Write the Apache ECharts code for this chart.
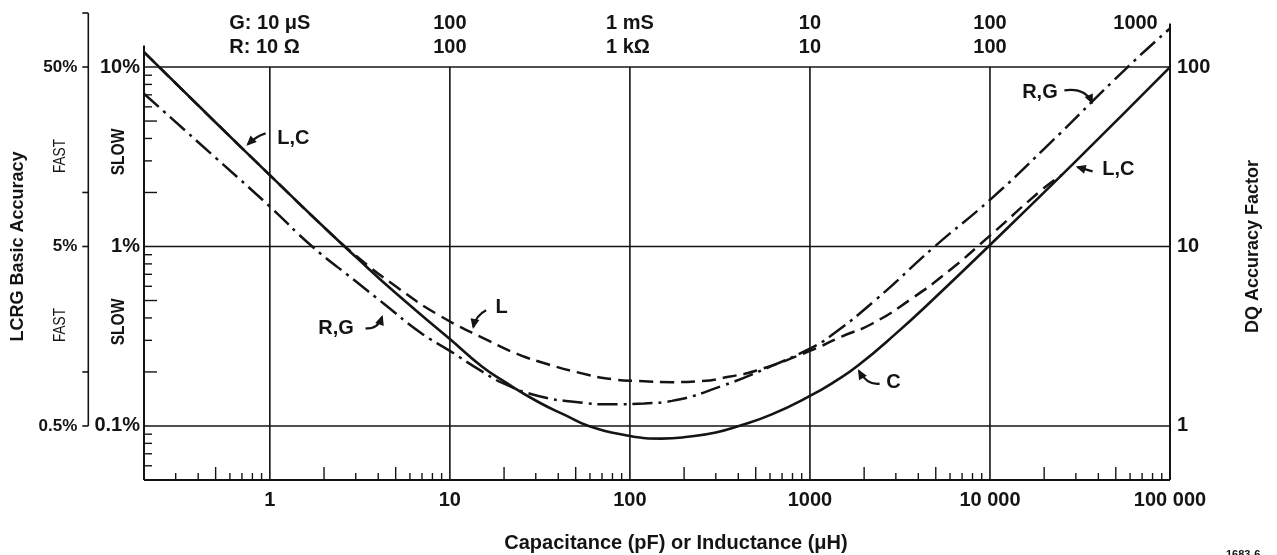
<!DOCTYPE html>
<html>
<head>
<meta charset="utf-8">
<script src="https://cdn.jsdelivr.net/npm/echarts@6/dist/echarts.min.js"></script>
<style>
  html, body { margin: 0; padding: 0; background: #ffffff; }
  #chart { width: 1277px; height: 555px; }
</style>
</head>
<body>
<div id="chart"></div>
<script>
// ---------------- data ----------------
// Curve L,C (solid)
const lcC = [0.2, 0.5, 1, 2, 3, 5, 10, 15, 20, 31, 44, 59, 100, 150, 210, 300, 403, 614, 1000, 1400, 1850, 3000, 4700, 10000, 30000, 100000];
const lcV = [12.1, 4.91, 2.5, 1.28, 0.876, 0.55, 0.305, 0.215, 0.177, 0.136, 0.1146, 0.100, 0.088, 0.085, 0.087, 0.092, 0.100, 0.116, 0.147, 0.179, 0.217, 0.327, 0.494, 1.02, 2.99, 9.98];
// Curve L (dashed)
const lC = [0.2, 0.5, 1, 2, 3, 5, 8.7, 16.5, 24, 35, 52, 80, 112, 171, 252, 354, 500, 1000, 1500, 2200, 3650, 6000, 10000, 19300, 25000];
const lV = [12.1, 4.91, 2.5, 1.28, 0.89, 0.60, 0.414, 0.2975, 0.2507, 0.2207, 0.1983, 0.182, 0.178, 0.1755, 0.178, 0.188, 0.203, 0.262, 0.315, 0.37, 0.51, 0.74, 1.15, 2.06, 2.5];
// Curve R,G (dash-dot)
const rgC = [0.2, 0.5, 1, 1.72, 3, 4.3, 6.85, 10, 15, 20, 31, 50, 80, 120, 171, 324, 614, 1000, 1290, 2294, 4930, 10000, 20000, 58200, 100000];
const rgV = [7.1, 3.12, 1.67, 1.0, 0.64, 0.48, 0.332, 0.262, 0.202, 0.172, 0.147, 0.136, 0.132, 0.1335, 0.138, 0.167, 0.216, 0.27, 0.315, 0.5, 1.0, 1.82, 3.5, 10.0, 16.4];

// axis ranges and tick labels
const X_MIN = 0.2, X_MAX = 100000;
const Y_MIN = 0.05, Y_MAX = 20;
const xDecadeLabels = ['1', '10', '100', '1000', '10 000', '100 000'];          // bottom, 10^0 .. 10^5
const topLabelsG = ['G: 10 \u03bcS', '100', '1 mS', '10', '100', '1000'];         // top line 1
const topLabelsR = ['R: 10 \u03a9', '100', '1 k\u03a9', '10', '100', ''];          // top line 2
const yLabelVals = [0.1, 1, 10];
const yLabels = ['0.1%', '1%', '10%'];
const dqLabelVals = [1, 10, 100];
const dqLabels = ['1', '10', '100'];
const outerTickVals = [0.5, 1, 5, 10, 50, 100];   // FAST scale, in %
const outerLabelVals = [0.5, 5, 50];
const outerLabels = ['0.5%', '5%', '50%'];
const OUTER_RATIO = 5;                             // FAST % = 5 x SLOW %
const xGridVals = [1, 10, 100, 1000, 10000];
const yGridVals = [0.1, 1, 10];
const minorMult = [2, 3, 4, 5, 6, 7, 8, 9];
const longMult = [2, 5];

// ---------------- helpers ----------------
const INK = '#141414';
const FONT = '"Liberation Sans", Arial, Helvetica, sans-serif';
const zip = (a, b) => a.map((v, i) => [v, b[i]]);
const isDecade = v => Math.abs(Math.log10(v) - Math.round(Math.log10(v))) < 1e-6;
const near = (a, b) => Math.abs(Math.log10(a) - Math.log10(b)) < 1e-6;

function minorTicks(lo, hi) {
  const out = [];
  for (let k = -3; k <= 6; k++) {
    minorMult.forEach(m => {
      const v = m * Math.pow(10, k);
      if (v > lo * 1.0001 && v < hi * 0.9999) out.push({ v, long: longMult.includes(m) });
    });
  }
  return out;
}
const xMinor = minorTicks(X_MIN, X_MAX);
const yMinor = minorTicks(Y_MIN, 10);

// annotations: label + curved arrow, placed in data coordinates
const notes = [
  { text: 'L,C', at: [1.10, 4.02], from: [0.947, 4.27], to: [0.755, 3.71], bend: [0, -3] },
  { text: 'R,G', at: [1.86, 0.35], from: [3.40, 0.35], to: [4.20, 0.405], bend: [4, 7] },
  { text: 'L',   at: [17.9, 0.46], from: [15.9, 0.441], to: [13.5, 0.356], bend: [-4, -3] },
  { text: 'C',   at: [2657, 0.174], from: [2438, 0.172], to: [1872, 0.2025], bend: [-2, 8] },
  { text: 'R,G', at: [15090, 7.26], from: [25900, 7.42], to: [36880, 6.34], bend: [7, -9] },
  { text: 'L,C', at: [42060, 2.69], from: [37160, 2.62], to: [30690, 2.77], bend: [0, 0] }
];

function frameItem(params, api) {
  const P = (x, y) => api.coord([x, y]);
  const ch = [];
  const L = (p, q, w) => ch.push({ type: 'line', shape: { x1: p[0], y1: p[1], x2: q[0], y2: q[1] },
                                   style: { stroke: INK, lineWidth: w || 1.6 } });
  yGridVals.forEach(v => L(P(X_MIN, v), P(X_MAX, v)));
  xGridVals.forEach(c => L(P(c, Y_MIN), P(c, 10)));
  L(P(X_MIN, Y_MIN), P(X_MAX, Y_MIN), 2);
  L(P(X_MIN, Y_MIN), P(X_MIN, 13.2), 2);
  L(P(X_MAX, Y_MIN), P(X_MAX, 17.5), 2);
  xMinor.forEach(t => { const p = P(t.v, Y_MIN); L(p, [p[0], p[1] - (t.long ? 13 : 7)], 1.4); });
  yMinor.forEach(t => { const p = P(X_MIN, t.v); L(p, [p[0] + (t.long ? 13 : 8), p[1]], 1.4); });
  // outer (FAST) percentage scale
  const ox = P(X_MIN, 1)[0] - 55.7;
  const oy = v => P(X_MIN, v / OUTER_RATIO)[1];
  L([ox, oy(outerTickVals[0])], [ox, oy(outerTickVals[outerTickVals.length - 1])], 1.6);
  outerTickVals.forEach(v => L([ox - 6, oy(v)], [ox, oy(v)], 1.6));
  outerLabelVals.forEach((v, i) => ch.push({
    type: 'text', x: ox - 11, y: oy(v),
    style: { text: outerLabels[i], fill: INK, font: 'bold 17px ' + FONT, align: 'right', verticalAlign: 'middle' }
  }));
  return { type: 'group', children: ch };
}

function notesItem(params, api) {
  const ch = [];
  notes.forEach(n => {
    const t = api.coord(n.at), a = api.coord(n.from), b = api.coord(n.to);
    const c = [(a[0] + b[0]) / 2 + n.bend[0], (a[1] + b[1]) / 2 + n.bend[1]];
    ch.push({ type: 'text', x: t[0], y: t[1],
      style: { text: n.text, fill: INK, font: 'bold 20px ' + FONT, align: 'left', verticalAlign: 'middle' } });
    ch.push({ type: 'bezierCurve',
      shape: { x1: a[0], y1: a[1], x2: b[0], y2: b[1], cpx1: c[0], cpy1: c[1] },
      style: { stroke: INK, lineWidth: 2.2, fill: null } });
    let dx = b[0] - c[0], dy = b[1] - c[1];
    const len = Math.hypot(dx, dy) || 1; dx /= len; dy /= len;
    const hl = 8, hw = 4.5;
    ch.push({ type: 'polygon',
      shape: { points: [[b[0] + dx * 2, b[1] + dy * 2],
                        [b[0] - dx * hl - dy * hw, b[1] - dy * hl + dx * hw],
                        [b[0] - dx * hl + dy * hw, b[1] - dy * hl - dx * hw]] },
      style: { fill: INK } });
  });
  return { type: 'group', children: ch };
}

const chart = echarts.init(document.getElementById('chart'), null, { renderer: 'canvas' });
const lbl = (size) => ({ fontSize: size, fontWeight: 'bold', fontFamily: FONT, color: INK });

chart.setOption({
  animation: false,
  backgroundColor: '#ffffff',
  grid: { left: 144, right: 107, top: 13, bottom: 75, containLabel: false, outerBoundsMode: 'none' },
  xAxis: [
    {
      type: 'log', logBase: 10, min: X_MIN, max: X_MAX, position: 'bottom',
      axisLine: { show: false }, axisTick: { show: false }, splitLine: { show: false },
      axisLabel: Object.assign(lbl(20), {
        margin: 10, showMinLabel: false,
        formatter: v => isDecade(v) && Math.round(Math.log10(v)) >= 0 ? xDecadeLabels[Math.round(Math.log10(v))] : ''
      }),
      name: 'Capacitance (pF) or Inductance (\u03bcH)', nameLocation: 'middle', nameGap: 53,
      nameTextStyle: Object.assign(lbl(20), { padding: [0, 0, 0, 38] })
    },
    {
      type: 'log', logBase: 10, min: X_MIN, max: X_MAX, position: 'top', offset: -54,
      axisLine: { show: false }, axisTick: { show: false }, splitLine: { show: false },
      axisLabel: {
        margin: 8, showMinLabel: false, color: INK,
        formatter: v => {
          if (!isDecade(v)) return '';
          const k = Math.round(Math.log10(v));
          if (k < 0 || k > 5) return '';
          if (!topLabelsR[k]) return '{e|' + topLabelsG[k] + '}\n{e| }';
          return '{a|' + topLabelsG[k] + '}\n{a|' + topLabelsR[k] + '}';
        },
        rich: {
          a: Object.assign(lbl(20), { lineHeight: 24, align: 'left' }),
          e: Object.assign(lbl(20), { lineHeight: 24, align: 'left', padding: [0, 69, 0, 0] })
        }
      }
    }
  ],
  yAxis: [
    {
      type: 'log', logBase: 10, min: Y_MIN, max: Y_MAX, position: 'left',
      axisLine: { show: false }, axisTick: { show: false }, splitLine: { show: false },
      axisLabel: Object.assign(lbl(20), {
        margin: 4, showMinLabel: false, showMaxLabel: false,
        formatter: v => { const i = yLabelVals.findIndex(u => near(u, v)); return i < 0 ? '' : yLabels[i]; }
      }),
      name: 'LCRG Basic Accuracy', nameLocation: 'middle', nameRotate: 90, nameGap: 117,
      nameTextStyle: lbl(18)
    },
    {
      type: 'log', logBase: 10, min: Y_MIN * 10, max: Y_MAX * 10, position: 'right',
      axisLine: { show: false }, axisTick: { show: false }, splitLine: { show: false },
      axisLabel: Object.assign(lbl(20), {
        margin: 7, showMinLabel: false, showMaxLabel: false,
        formatter: v => { const i = dqLabelVals.findIndex(u => near(u, v)); return i < 0 ? '' : dqLabels[i]; }
      }),
      name: 'DQ Accuracy Factor', nameLocation: 'middle', nameRotate: 90, nameGap: 74,
      nameTextStyle: lbl(18)
    }
  ],
  graphic: [
    { type: 'text', x: 60, y: 156, rotation: Math.PI / 2, scaleX: 0.8,
      style: { text: 'FAST', fill: INK, font: '17px ' + FONT, align: 'center', verticalAlign: 'middle' } },
    { type: 'text', x: 60, y: 325, rotation: Math.PI / 2, scaleX: 0.8,
      style: { text: 'FAST', fill: INK, font: '17px ' + FONT, align: 'center', verticalAlign: 'middle' } },
    { type: 'text', x: 119, y: 152, rotation: Math.PI / 2, scaleX: 0.82,
      style: { text: 'SLOW', fill: INK, font: 'bold 19px ' + FONT, align: 'center', verticalAlign: 'middle' } },
    { type: 'text', x: 119, y: 322, rotation: Math.PI / 2, scaleX: 0.82,
      style: { text: 'SLOW', fill: INK, font: 'bold 19px ' + FONT, align: 'center', verticalAlign: 'middle' } },
    { type: 'text', x: 1226, y: 549,
      style: { text: '1683-6', fill: INK, font: 'bold 11px ' + FONT, align: 'left', verticalAlign: 'top' } }
  ],
  series: [
    { type: 'custom', name: 'frame', z: 1, silent: true, renderItem: frameItem, data: [[1, 1]] },
    { type: 'line', name: 'L,C', z: 3, data: zip(lcC, lcV), showSymbol: false, smooth: 0.5,
      lineStyle: { color: INK, width: 2.6, type: 'solid' } },
    { type: 'line', name: 'L', z: 3, data: zip(lC, lV), showSymbol: false, smooth: 0.5,
      lineStyle: { color: INK, width: 2.5, type: [14, 7] } },
    { type: 'line', name: 'R,G', z: 3, data: zip(rgC, rgV), showSymbol: false, smooth: 0.5,
      lineStyle: { color: INK, width: 2.5, type: [20, 6, 3, 6] } },
    { type: 'custom', name: 'notes', z: 4, silent: true, renderItem: notesItem, data: [[1, 1]] }
  ]
});
</script>
</body>
</html>
